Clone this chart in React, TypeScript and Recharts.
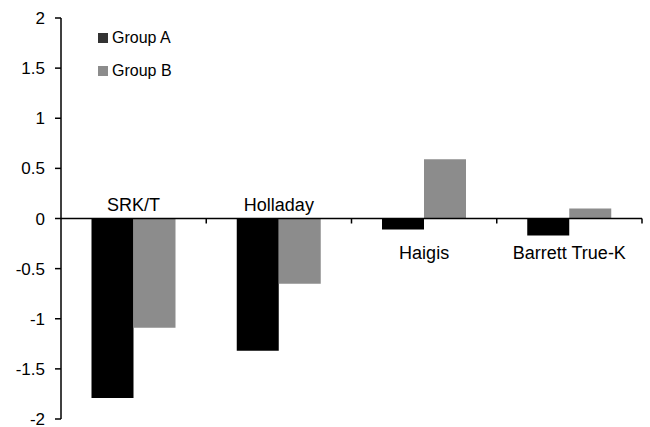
import React from "react";
import {
  BarChart,
  Bar,
  XAxis,
  YAxis,
  ReferenceLine,
  ReferenceDot,
} from "recharts";

const formulas = ["SRK/T", "Holladay", "Haigis", "Barrett True-K"];
const groupA = [-1.79, -1.32, -0.11, -0.17];
const groupB = [-1.09, -0.65, 0.59, 0.1];
const yTicks = [-2, -1.5, -1, -0.5, 0, 0.5, 1, 1.5, 2];

const COLORS = {
  a: "#000000",
  b: "#8c8c8c",
  legendA: "#333333",
};

const FONT = "Liberation Sans, Arial, sans-serif";

const data = formulas.map((name, i) => ({
  name,
  a: groupA[i],
  b: groupB[i],
}));

// labels sit above the zero line when both bars go down
const labelAbove = data.map((d) => Math.max(d.a, d.b) <= 0);

// zero line with small downward ticks between categories
function ZeroAxis(props: any) {
  const { x1, y1, x2 } = props;
  const n = formulas.length;
  const step = (x2 - x1) / n;
  const ticks = [];
  for (let k = 1; k <= n; k++) {
    const x = x1 + step * k;
    ticks.push(
      <line key={k} x1={x} y1={y1} x2={x} y2={y1 + 5} stroke="#000" strokeWidth={1.5} />
    );
  }
  return (
    <g>
      <line x1={x1} y1={y1} x2={x2} y2={y1} stroke="#000" strokeWidth={1.5} />
      {ticks}
    </g>
  );
}

function LegendBox() {
  const items = [
    { label: "Group A", color: COLORS.legendA },
    { label: "Group B", color: COLORS.b },
  ];
  return (
    <div
      style={{
        position: "absolute",
        left: 98,
        top: 21,
        fontFamily: FONT,
        fontSize: 16,
        color: "#000",
      }}
    >
      {items.map((it) => (
        <div
          key={it.label}
          style={{ display: "flex", alignItems: "center", height: 33 }}
        >
          <span
            style={{
              display: "inline-block",
              width: 10,
              height: 10,
              background: it.color,
              marginRight: 4,
            }}
          />
          {it.label}
        </div>
      ))}
    </div>
  );
}

export default function App() {
  return (
    <div
      style={{
        position: "absolute",
        left: 0,
        top: 0,
        width: 650,
        height: 427,
        background: "#fff",
      }}
    >
      <BarChart
        width={650}
        height={427}
        data={data}
        margin={{ top: 18, right: 8, bottom: 8, left: 0 }}
        barCategoryGap="21%"
        barGap={0}
      >
        <XAxis dataKey="name" hide />
        <YAxis
          domain={[-2, 2]}
          ticks={yTicks}
          width={61}
          tickSize={6}
          tickMargin={10}
          axisLine={{ stroke: "#000", strokeWidth: 1.5 }}
          tickLine={{ stroke: "#000", strokeWidth: 1.5 }}
          tick={{ fill: "#000", fontSize: 17, fontFamily: FONT }}
          interval={0}
        />
        <Bar dataKey="a" name="Group A" fill={COLORS.a} isAnimationActive={false} />
        <Bar dataKey="b" name="Group B" fill={COLORS.b} isAnimationActive={false} />
        <ReferenceLine y={0} shape={<ZeroAxis />} />
        {data.map((d, i) => (
          <ReferenceDot
            key={d.name}
            x={d.name}
            y={0}
            r={0}
            fill="none"
            stroke="none"
            label={{
              value: d.name,
              position: labelAbove[i] ? "top" : "bottom",
              offset: labelAbove[i] ? 8 : 28,
              fill: "#000",
              fontSize: 18,
              fontFamily: FONT,
            }}
          />
        ))}
      </BarChart>
      <LegendBox />
    </div>
  );
}
